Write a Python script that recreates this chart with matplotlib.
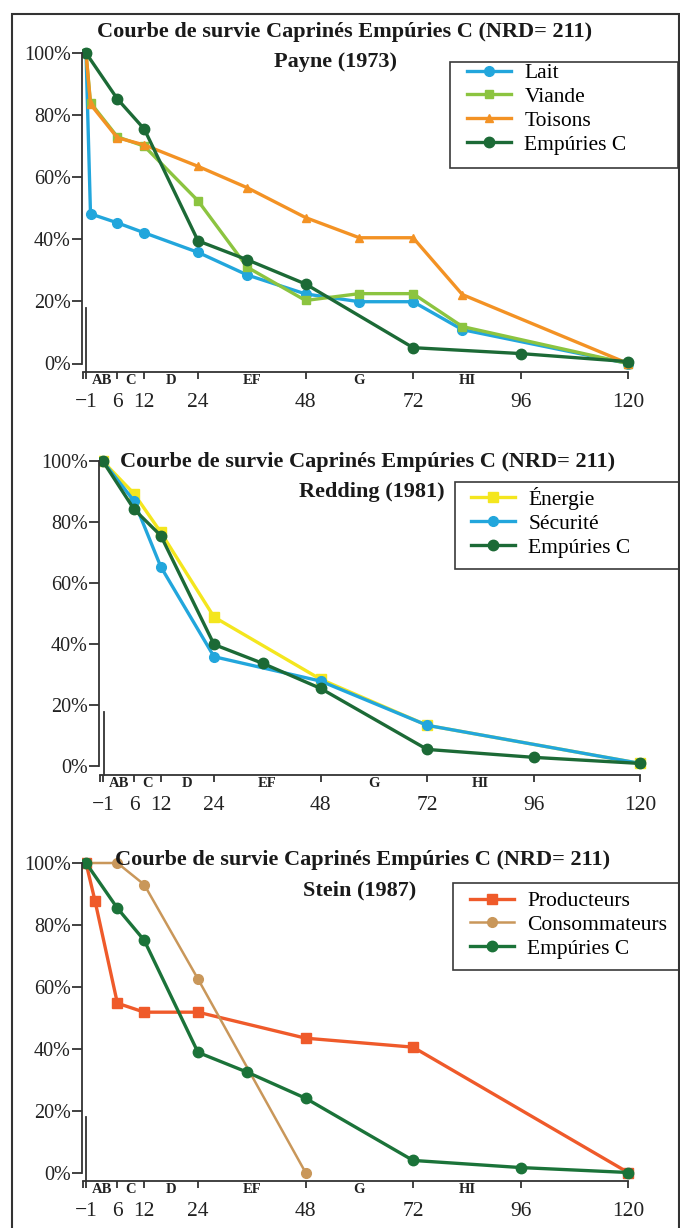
import matplotlib
matplotlib.use('Agg')
import matplotlib.pyplot as plt
from matplotlib.patches import Rectangle

plt.rcParams['font.family'] = ['Liberation Serif', 'DejaVu Serif']

# ---------------- data ----------------
title_main = "Courbe de survie Caprinés Empúries C (NRD= 211)"
subtitles = ["Payne (1973)", "Redding (1981)", "Stein (1987)"]

x_ticks = [-1, 6, 12, 24, 48, 72, 96, 120]
x_labels = ["\u22121", "6", "12", "24", "48", "72", "96", "120"]
class_labels = ["AB", "C", "D", "EF", "G", "HI"]
class_pos = [2.5, 9, 18, 36, 60, 84]
y_ticks = [0, 20, 40, 60, 80, 100]
y_labels = ["0%", "20%", "40%", "60%", "80%", "100%"]

# Payne (1973)
payne_x = [-1, 0, 6, 12, 24, 35, 48, 60, 72, 83, 120]
lait = [100, 48.2, 45.3, 42.1, 35.8, 28.5, 22.4, 19.9, 19.9, 10.9, 0]
viande = [100, 84, 73, 70, 52.4, 31, 20.3, 22.5, 22.5, 11.9, 0]
toisons = [100, 83.5, 72.7, 70.4, 63.5, 56.6, 47, 40.5, 40.5, 22.2, 0]
emp_x = [-1, 6, 12, 24, 35, 48, 72, 96, 120]
emp_payne = [100, 85.2, 75.5, 39.5, 33.4, 25.6, 5.1, 3.2, 0.6]

# Redding (1981)
redding_x = [-1, 6, 12, 24, 48, 72, 120]
energie = [100, 89.4, 76.8, 49, 28.6, 13.5, 1]
securite = [100, 87, 65.5, 36, 28, 13.5, 1]
emp_redding = [100, 84.3, 75.7, 40, 33.8, 25.6, 5.6, 3, 1]

# Stein (1987)
prod_x = [-1, 1, 6, 12, 24, 48, 72, 120]
producteurs = [100, 87.8, 54.7, 51.8, 51.8, 43.4, 40.5, 0]
cons_x = [-1, 6, 12, 24, 48]
consommateurs = [100, 100, 93, 62.5, 0]
emp_stein = [100, 85.4, 75, 38.8, 32.4, 24, 3.9, 1.6, 0]

# ---------------- styles ----------------
C_BLUE = '#22a6dc'
C_LGREEN = '#8cc440'
C_ORANGE = '#f39224'
C_DGREEN = '#1c6a36'
C_DGREEN3 = '#1b7339'
C_YELLOW = '#f4e61e'
C_RED = '#ef5a2a'
C_TAN = '#c9975a'
AX_COL = '#333333'

W, H = 680, 1228
fig = plt.figure(figsize=(W / 100, H / 100), dpi=100)
fig.patch.set_facecolor('white')

XLIM = (-1.9, 123)
YLIM = (-2.8, 104)


def make_axes(x0px, sx, y0px, sy):
    left_px = x0px + XLIM[0] * sx
    right_px = x0px + XLIM[1] * sx
    bottom_px = y0px - YLIM[0] * sy
    top_px = y0px - YLIM[1] * sy
    ax = fig.add_axes([left_px / W, 1 - bottom_px / H,
                       (right_px - left_px) / W, (bottom_px - top_px) / H])
    ax.set_xlim(*XLIM)
    ax.set_ylim(*YLIM)
    ax.patch.set_alpha(0)
    for s in ['top', 'right']:
        ax.spines[s].set_visible(False)
    ax.spines['left'].set_bounds(0, 100)
    ax.spines['bottom'].set_bounds(-1.6, 120)
    for s in ['left', 'bottom']:
        ax.spines[s].set_color(AX_COL)
        ax.spines[s].set_linewidth(1.3)
    ax.set_xticks(x_ticks)
    ax.set_xticklabels(x_labels)
    ax.set_xticks([-1.6], minor=True)
    ax.set_yticks(y_ticks)
    ax.set_yticklabels(y_labels)
    ax.tick_params(axis='x', which='both', direction='out', length=5, width=1.3,
                   color=AX_COL, pad=10, labelsize=15.5, labelcolor='#222222')
    ax.tick_params(axis='y', direction='out', length=7, width=1.3, color=AX_COL,
                   pad=1, labelsize=14.5, labelcolor='#222222')
    for p, lab in zip(class_pos, class_labels):
        ax.annotate(lab, xy=(p, 0), xycoords=('data', 'axes fraction'),
                    xytext=(0, -1.5), textcoords='offset points', ha='center',
                    va='top', fontsize=10.5, fontweight='bold', color='#222222')
    ax.plot([-0.9, -0.9], [YLIM[0], 18], color=AX_COL, lw=1.3, clip_on=False)
    return ax


def legend(ax, box, content_left, content_top):
    # frame drawn in figure pixels, entries placed inside it
    x0, y0, x1, y1 = box
    ax.add_artist(Rectangle((x0 / W, 1 - y1 / H), (x1 - x0) / W, (y1 - y0) / H,
                            transform=fig.transFigure, facecolor='white',
                            edgecolor='#3a3a3a', lw=1.2, zorder=4, clip_on=False))
    leg = ax.legend(loc='upper left',
                    bbox_to_anchor=(content_left / W, 1 - content_top / H),
                    bbox_transform=fig.transFigure, borderaxespad=0, borderpad=0,
                    frameon=False, fontsize=15.5, handlelength=2.05,
                    handletextpad=0.62, labelspacing=0.18, numpoints=1)
    leg.set_zorder(6)
    return leg


def titles(cx1, y1, cx2, y2, sub):
    fig.text(cx1 / W, 1 - y1 / H, title_main, ha='center', va='center',
             fontsize=16, fontweight='bold', color='#1a1a1a')
    fig.text(cx2 / W, 1 - y2 / H, sub, ha='center', va='center',
             fontsize=16, fontweight='bold', color='#1a1a1a')


LW = 2.4
# ---------------- panel 1 : Payne ----------------
ax1 = make_axes(90.5, 4.48, 363.5, 3.105)
ax1.plot(payne_x, lait, color=C_BLUE, lw=LW, marker='o', ms=7, label='Lait')
ax1.plot(payne_x, viande, color=C_LGREEN, lw=LW, marker='s', ms=6, label='Viande')
ax1.plot(payne_x, toisons, color=C_ORANGE, lw=LW, marker='^', ms=6, label='Toisons')
ax1.plot(emp_x, emp_payne, color=C_DGREEN, lw=LW, marker='o', ms=7.5, label='Empúries C')
legend(ax1, (450, 62, 678, 168), 467, 63)
titles(345, 32, 336, 62, subtitles[0])

# ---------------- panel 2 : Redding ----------------
ax2 = make_axes(107.5, 4.44, 766.5, 3.05)
ax2.plot(redding_x, energie, color=C_YELLOW, lw=LW, marker='s', ms=6.5, label='Énergie')
ax2.plot(redding_x, securite, color=C_BLUE, lw=LW, marker='o', ms=7, label='Sécurité')
ax2.plot(emp_x, emp_redding, color=C_DGREEN, lw=LW, marker='o', ms=7.5, label='Empúries C')
legend(ax2, (455, 482, 679, 569), 471, 487)
titles(368, 462, 372, 492, subtitles[1])

# ---------------- panel 3 : Stein ----------------
ax3 = make_axes(90.5, 4.48, 1172.5, 3.095)
ax3.plot(prod_x, producteurs, color=C_RED, lw=LW, marker='s', ms=6.5, label='Producteurs')
ax3.plot(cons_x, consommateurs, color=C_TAN, lw=1.8, marker='o', ms=7, label='Consommateurs')
ax3.plot(emp_x, emp_stein, color=C_DGREEN3, lw=LW, marker='o', ms=7.5, label='Empúries C')
legend(ax3, (453, 883, 679, 970), 470, 891)
titles(363, 860, 360, 890, subtitles[2])

# outer frame
fig.add_artist(Rectangle((12 / W, -0.01), (679 - 12) / W, (1228 - 14) / H + 0.01,
                         transform=fig.transFigure, fill=False,
                         edgecolor='#333333', lw=1.5))

fig.savefig('out.png', dpi=100)
